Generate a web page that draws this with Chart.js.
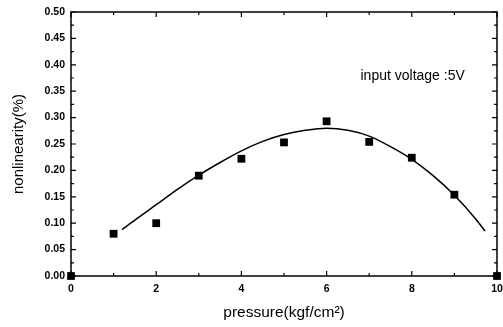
<!DOCTYPE html>
<html lang="en">
<head>
    <meta charset="UTF-8">
    <title>Nonlinearity vs pressure</title>
    <script src="https://cdn.jsdelivr.net/npm/chart.js"></script>
    <style>
        html, body { margin: 0; padding: 0; background: #fff; }
        #wrap { width: 503px; height: 327px; }
    </style>
</head>
<body>
    <div id="wrap"><canvas id="chart"></canvas></div>

    <script>
        // measured points
        const pressure = [0, 1, 2, 3, 4, 5, 6, 7, 8, 9, 10];
        const nonlinearity = [0.0, 0.08, 0.10, 0.19, 0.222, 0.253, 0.293, 0.254, 0.224, 0.154, 0.0];

        // fitted curve
        const fitX = [1.2, 1.5, 2.0, 2.5, 3.0, 3.5, 4.0, 4.5, 5.0, 5.5, 6.0, 6.5, 7.0, 7.5, 8.0, 8.5, 9.0, 9.5, 9.72];
        const fitY = [0.088, 0.106, 0.135, 0.164, 0.191, 0.215, 0.237, 0.255, 0.268, 0.276, 0.280, 0.276, 0.265, 0.245, 0.221, 0.190, 0.153, 0.108, 0.085];

        const annotation = 'input voltage :5V';
        const xTitle = 'pressure(kgf/cm\u00B2)';
        const yTitle = 'nonlinearity(%)';

        const frameTicks = {
            id: 'frameTicks',
            afterDatasetsDraw(chart) {
                const { ctx, chartArea: a, scales: { x, y } } = chart;
                ctx.save();
                ctx.strokeStyle = '#000';
                ctx.lineWidth = 1.5;
                ctx.strokeRect(a.left, a.top, a.right - a.left, a.bottom - a.top);
                ctx.lineWidth = 1.2;
                ctx.beginPath();
                for (let v = 0; v <= 10; v++) {
                    const px = x.getPixelForValue(v);
                    const len = v % 2 === 0 ? 5 : 3;
                    ctx.moveTo(px, a.bottom); ctx.lineTo(px, a.bottom - len);
                    ctx.moveTo(px, a.top); ctx.lineTo(px, a.top + len);
                }
                for (let i = 0; i <= 20; i++) {
                    const py = y.getPixelForValue(i * 0.025);
                    const len = i % 2 === 0 ? 5 : 3;
                    ctx.moveTo(a.left, py); ctx.lineTo(a.left + len, py);
                    ctx.moveTo(a.right, py); ctx.lineTo(a.right - len, py);
                }
                ctx.stroke();
                // note text
                ctx.fillStyle = '#000';
                ctx.font = '14px "Liberation Sans", Arial, sans-serif';
                ctx.textAlign = 'center';
                ctx.textBaseline = 'middle';
                ctx.fillText(annotation, x.getPixelForValue(8.02), y.getPixelForValue(0.378));
                ctx.restore();
            }
        };

        new Chart(document.getElementById('chart'), {
            type: 'scatter',
            data: {
                datasets: [
                    {
                        type: 'line',
                        data: fitX.map((v, i) => ({ x: v, y: fitY[i] })),
                        borderColor: '#000',
                        borderWidth: 1.5,
                        pointRadius: 0,
                        cubicInterpolationMode: 'monotone',
                        fill: false
                    },
                    {
                        data: pressure.map((v, i) => ({ x: v, y: nonlinearity[i] })),
                        pointStyle: 'rect',
                        pointRadius: 5.5,
                        backgroundColor: '#000',
                        borderColor: '#000',
                        borderWidth: 0,
                        clip: false
                    }
                ]
            },
            options: {
                responsive: true,
                maintainAspectRatio: false,
                animation: false,
                layout: { padding: { left: 0, right: 6, top: 12, bottom: 0 } },
                plugins: {
                    legend: { display: false },
                    tooltip: { enabled: false }
                },
                scales: {
                    x: {
                        type: 'linear',
                        min: 0,
                        max: 10,
                        grid: { display: false, drawTicks: false },
                        border: { display: false },
                        ticks: {
                            stepSize: 2,
                            padding: 7,
                            color: '#000',
                            font: { family: '"Liberation Sans", Arial', size: 10.5, weight: 'bold' }
                        },
                        title: {
                            display: true,
                            text: xTitle,
                            color: '#000',
                            padding: { top: 2, bottom: 5 },
                            font: { family: '"Liberation Sans", Arial', size: 15.5 }
                        },
                        afterFit(scale) {
                            scale.height = 51;
                            scale.paddingLeft = 0;
                            scale.paddingRight = 0;
                        }
                    },
                    y: {
                        min: 0,
                        max: 0.5,
                        grid: { display: false, drawTicks: false },
                        border: { display: false },
                        ticks: {
                            stepSize: 0.05,
                            padding: 6,
                            color: '#000',
                            font: { family: '"Liberation Sans", Arial', size: 10.5, weight: 'bold' },
                            callback: v => v.toFixed(2)
                        },
                        title: {
                            display: true,
                            text: yTitle,
                            color: '#000',
                            padding: { top: 10, bottom: 0 },
                            font: { family: '"Liberation Sans", Arial', size: 15 }
                        },
                        afterFit(scale) {
                            scale.width = 71;
                            scale.paddingTop = 0;
                            scale.paddingBottom = 0;
                        }
                    }
                }
            },
            plugins: [frameTicks]
        });
    </script>
</body>
</html>
